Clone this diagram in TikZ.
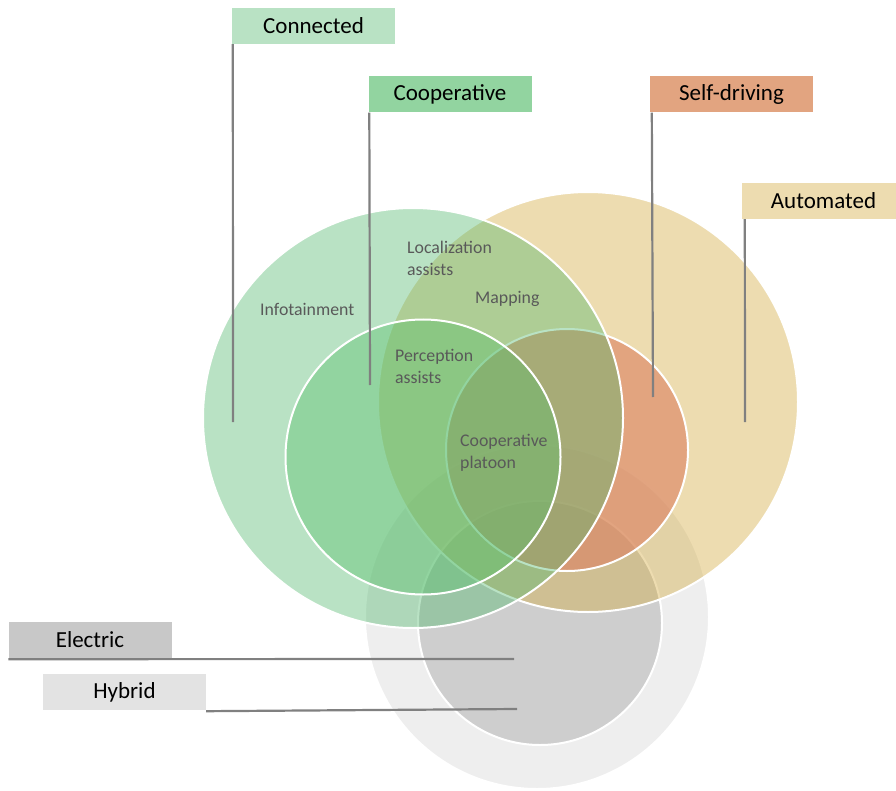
\documentclass[tikz,border=0pt]{standalone}
\usepackage{fontspec}
\setmainfont{Carlito}
\definecolor{connC}{RGB}{80,183,108}
\definecolor{coopC}{RGB}{88,191,106}
\definecolor{autoC}{RGB}{210,168,58}
\definecolor{selfC}{RGB}{219,127,96}
\definecolor{hybC}{RGB}{212,212,212}
\definecolor{elecC}{RGB}{160,160,160}
\definecolor{connT}{RGB}{185,226,196}
\definecolor{coopT}{RGB}{146,212,160}
\definecolor{selfT}{RGB}{226,164,128}
\definecolor{autoT}{RGB}{237,220,176}
\definecolor{elecT}{RGB}{200,200,200}
\definecolor{hybT}{RGB}{227,227,227}
\definecolor{txtC}{HTML}{595959}
\tikzset{
  venn/.style={circle, draw=white, line width=2pt, fill opacity=0.4, minimum size=#1, inner sep=0},
  tag/.style={fill=#1, minimum width=163pt, minimum height=36pt, inner sep=0, font=\fontsize{23}{27}\selectfont},
  lead/.style={draw=gray, line width=2.2pt},
  inside/.style={anchor=west, inner sep=0, align=left, text=txtC, font=\fontsize{17.8}{22}\selectfont}
}
\begin{document}
\begin{tikzpicture}[x=1pt,y=-1pt]
\useasboundingbox (0,0) rectangle (896,791);
% circles, back to front
\node[venn=344pt, fill=hybC] at (537,617) (hyb) {};
\node[venn=244pt, fill=elecC] at (540,623) (elec) {};
\node[venn=420pt, fill=autoC] at (588,402) (auto) {};
\node[venn=242pt, fill=selfC, fill opacity=0.6] at (567,450) (self) {};
\node[venn=420pt, fill=connC] at (413,418) (conn) {};
\node[venn=275pt, fill=coopC] at (423,457) (coop) {};
% texts inside
\node[inside] at (260,309) (info) {Infotainment};
\node[inside] at (407,258) (loca) {Localization\\assists};
\node[inside] at (475,299) (mapp) {Mapping};
\node[inside] at (395,366) (perc) {Perception\\assists};
\node[inside] at (460,453) (plat) {Cooperative\\platoon};
% tags
\node[tag=connT] at (313.5,26) (conntag) {Connected};
\node[tag=coopT] at (450,94.5) (cooptag) {Cooperative};
\node[tag=selfT] at (731.5,94.5) (selftag) {Self-driving};
\node[tag=autoT] at (823.5,201) (autotag) {Automated};
\node[tag=elecT] at (90,640) (electag) {Electric};
\node[tag=hybT] at (124.5,692) (hybtag) {Hybrid};
% leader lines
\coordinate (c1) at (233,422);
\coordinate (c2) at (370,385);
\coordinate (c3) at (653,397);
\coordinate (c4) at (745,422);
\coordinate (c5) at (514,659);
\coordinate (c6) at (517,709);
\draw[lead] ([xshift=1pt]conntag.south west) -- (c1);
\draw[lead] ([xshift=1pt]cooptag.south west) -- (c2);
\draw[lead] ([xshift=2pt]selftag.south west) -- (c3);
\draw[lead] ([xshift=3pt]autotag.south west) -- (c4);
\draw[lead] ([yshift=-1pt]electag.south west) -- (c5);
\draw[lead] ([yshift=-1pt]hybtag.south east) -- (c6);
\end{tikzpicture}
\end{document}
